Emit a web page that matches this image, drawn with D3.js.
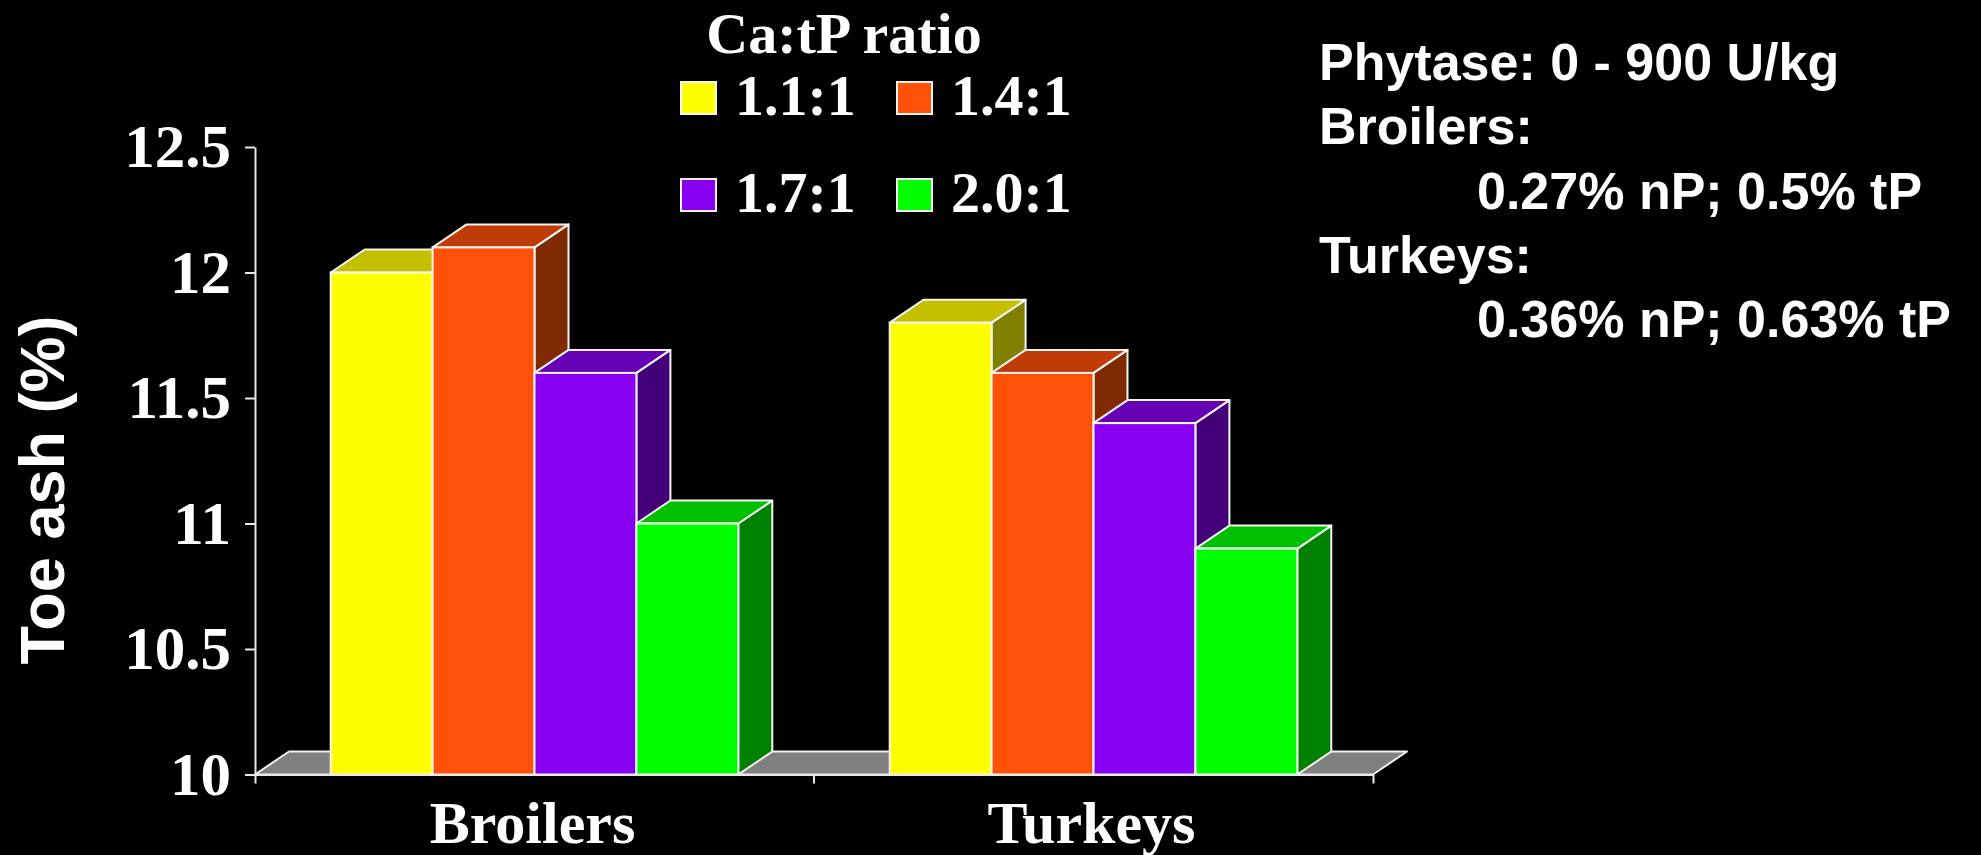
<!DOCTYPE html>
<html>
<head>
<meta charset="utf-8">
<script src="https://cdn.jsdelivr.net/npm/d3@7"></script>
<style>
  html, body { margin: 0; padding: 0; background: #000; }
  svg { display: block; }
</style>
</head>
<body>
<div id="chart"></div>
<script>
// data
var categories = ["Broilers", "Turkeys"];
var series = ["1.1:1", "1.4:1", "1.7:1", "2.0:1"];
var broilerValues = [12.0, 12.1, 11.6, 11.0];
var turkeyValues = [11.8, 11.6, 11.4, 10.9];
var yTicks = [10, 10.5, 11, 11.5, 12, 12.5];
var noteLines = [
  { text: "Phytase: 0 - 900 U/kg", indent: 0 },
  { text: "Broilers:", indent: 0 },
  { text: "0.27% nP; 0.5% tP", indent: 1 },
  { text: "Turkeys:", indent: 0 },
  { text: "0.36% nP; 0.63% tP", indent: 1 }
];

// front / top / side shades for each series
var frontColors = ["#ffff00", "#ff5208", "#8800f0", "#00ff00"];
var topColors = ["#c4c000", "#c03c06", "#6600b4", "#00c000"];
var sideColors = ["#808000", "#802a04", "#440078", "#008000"];

var svgWidth = 1981;
var svgHeight = 855;

var margin = { top: 147, bottom: 80.5, left: 255, right: 608 };
var width = svgWidth - margin.left - margin.right;
var height = svgHeight - margin.top - margin.bottom;

// depth of the fake 3d
var dx = 34, dy = 23;

var serif = "'Liberation Serif', 'Times New Roman', serif";
var sans = "'Liberation Sans', Arial, sans-serif";

var svg = d3.select("#chart")
  .append("svg")
  .attr("width", svgWidth)
  .attr("height", svgHeight)
  .style("background", "#000");

var chartGroup = svg.append("g")
  .attr("transform", `translate(${margin.left}, ${margin.top})`);

var data = categories.map(function (c, i) {
  var vals = i === 0 ? broilerValues : turkeyValues;
  return { category: c, values: series.map(function (s, j) { return { key: s, idx: j, value: vals[j] }; }) };
});

var x0 = d3.scaleBand()
  .domain(categories)
  .range([0, width])
  .padding(0);

var x1 = d3.scaleBand()
  .domain(series)
  .range([0, x0.bandwidth()])
  .paddingInner(0)
  .paddingOuter(0.743);

var yLinearScale = d3.scaleLinear()
  .domain([10, 12.5])
  .range([height, 0]);

// floor
chartGroup.append("path")
  .attr("d", `M0,${height}L${width},${height}L${width + dx},${height - dy}L${dx},${height - dy}Z`)
  .attr("fill", "#808080")
  .attr("stroke", "#f0f0f0")
  .attr("stroke-width", 2)
  .attr("stroke-linejoin", "round");

// bars, left to right so the next bar hides the previous side face
data.forEach(function (group) {
  var g = chartGroup.append("g")
    .attr("transform", `translate(${x0(group.category)}, 0)`);

  group.values.forEach(function (d) {
    var xl = x1(d.key);
    var xr = xl + x1.bandwidth();
    var yt = yLinearScale(d.value);
    var yb = height;

    // side face
    g.append("path")
      .attr("d", `M${xr},${yb}L${xr},${yt}L${xr + dx},${yt - dy}L${xr + dx},${yb - dy}Z`)
      .attr("fill", sideColors[d.idx])
      .attr("stroke", "#f4f4f4")
      .attr("stroke-width", 2)
      .attr("stroke-linejoin", "round");

    // top face
    g.append("path")
      .attr("d", `M${xl},${yt}L${xr},${yt}L${xr + dx},${yt - dy}L${xl + dx},${yt - dy}Z`)
      .attr("fill", topColors[d.idx])
      .attr("stroke", "#f4f4f4")
      .attr("stroke-width", 2)
      .attr("stroke-linejoin", "round");

    // front face
    g.append("rect")
      .attr("x", xl)
      .attr("y", yt)
      .attr("width", x1.bandwidth())
      .attr("height", yb - yt)
      .attr("fill", frontColors[d.idx])
      .attr("stroke", "#f4f4f4")
      .attr("stroke-width", 2);
  });
});

// y axis
var leftAxis = d3.axisLeft(yLinearScale)
  .tickValues(yTicks)
  .tickFormat(d3.format(""))
  .tickSize(10)
  .tickSizeOuter(0)
  .tickPadding(14);

var yAxis = chartGroup.append("g").call(leftAxis);
yAxis.select(".domain").attr("stroke", "#e8e8e8").attr("stroke-width", 2);
yAxis.selectAll(".tick line").attr("stroke", "#e8e8e8").attr("stroke-width", 2);
yAxis.selectAll(".tick text")
  .attr("fill", "#fff")
  .attr("dy", "0.32em")
  .style("font-family", serif)
  .style("font-weight", "bold")
  .style("font-size", "61px");

// x axis
var bottomAxis = d3.axisBottom(x0)
  .tickSize(0)
  .tickSizeOuter(9)
  .tickPadding(0);

var xAxis = chartGroup.append("g")
  .attr("transform", `translate(0, ${height})`)
  .call(bottomAxis);
xAxis.select(".domain").attr("stroke", "#e8e8e8").attr("stroke-width", 2);
xAxis.selectAll(".tick text")
  .attr("fill", "#fff")
  .attr("x", -2)
  .attr("y", 68)
  .attr("dy", 0)
  .style("font-family", serif)
  .style("font-weight", "bold")
  .style("font-size", "60px");

// tick between the two groups
xAxis.append("line")
  .attr("x1", x0("Turkeys"))
  .attr("x2", x0("Turkeys"))
  .attr("y1", 0)
  .attr("y2", 9)
  .attr("stroke", "#e8e8e8")
  .attr("stroke-width", 2);

// y axis title
svg.append("text")
  .attr("transform", "translate(64, 490) rotate(-90)")
  .attr("text-anchor", "middle")
  .attr("fill", "#fff")
  .style("font-family", sans)
  .style("font-weight", "bold")
  .style("font-size", "63px")
  .text("Toe ash (%)");

// legend
var legend = svg.append("g");
legend.append("text")
  .attr("x", 844)
  .attr("y", 53)
  .attr("text-anchor", "middle")
  .attr("fill", "#fff")
  .style("font-family", serif)
  .style("font-weight", "bold")
  .style("font-size", "58px")
  .text("Ca:tP ratio");

var legendItems = legend.selectAll(".item")
  .data(series)
  .enter()
  .append("g")
  .attr("class", "item")
  .attr("transform", function (d, i) {
    return `translate(${681 + (i % 2) * 216}, ${82 + Math.floor(i / 2) * 97})`;
  });

legendItems.append("rect")
  .attr("width", 35)
  .attr("height", 32)
  .attr("fill", function (d, i) { return frontColors[i]; })
  .attr("stroke", "#f4f4f4")
  .attr("stroke-width", 2);

legendItems.append("text")
  .attr("x", 54)
  .attr("y", 33)
  .attr("fill", "#fff")
  .style("font-family", serif)
  .style("font-weight", "bold")
  .style("font-size", "58px")
  .text(function (d) { return d; });

// notes at the right
svg.append("g")
  .selectAll("text")
  .data(noteLines)
  .enter()
  .append("text")
  .attr("x", function (d) { return d.indent ? 1477 : 1319; })
  .attr("y", function (d, i) { return 80 + i * 64.3; })
  .attr("fill", "#fff")
  .style("font-family", sans)
  .style("font-weight", "bold")
  .style("font-size", "52px")
  .text(function (d) { return d.text; });
</script>
</body>
</html>
